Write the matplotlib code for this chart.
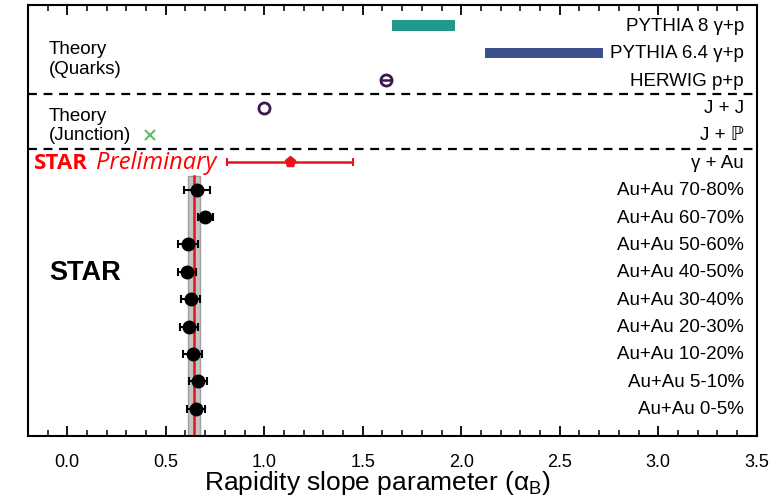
import matplotlib.pyplot as plt
import numpy as np

plt.rcParams['font.family'] = ['Liberation Sans', 'DejaVu Sans']
plt.rcParams['mathtext.default'] = 'regular'

# rows from bottom (0) to top (14)
labels = ["Au+Au 0-5%", "Au+Au 5-10%", "Au+Au 10-20%", "Au+Au 20-30%",
          "Au+Au 30-40%", "Au+Au 40-50%", "Au+Au 50-60%", "Au+Au 60-70%",
          "Au+Au 70-80%", "\u03b3 + Au", "J + \u2119", "J + J",
          "HERWIG p+p", "PYTHIA 6.4 \u03b3+p", "PYTHIA 8 \u03b3+p"]

# STAR Au+Au points (0-5% ... 70-80%)
auau_alpha = [0.655, 0.663, 0.638, 0.618, 0.628, 0.608, 0.613, 0.70, 0.66]
auau_err = [0.045, 0.045, 0.048, 0.046, 0.048, 0.045, 0.05, 0.038, 0.066]
avg_alpha = 0.641
avg_band = (0.613, 0.676)

# gamma + Au preliminary
gau_alpha = 1.13
gau_lo, gau_hi = 0.81, 1.45

# theory
jp_alpha = 0.42
jj_alpha = 1.0
herwig_alpha = 1.62
herwig_err = 0.02
pythia64 = (2.12, 2.72)
pythia8 = (1.646, 1.97)

fig = plt.figure(figsize=(7.73, 5.02), dpi=100)
ax = fig.add_axes([0.036, 0.1295, 0.943, 0.8585])

ax.set_xlim(-0.2, 3.5)
ax.set_ylim(-1, 14.75)

# average band + line
ax.fill_betweenx([-1, 8.5], avg_band[0], avg_band[1], color='#c4c4c4',
                 edgecolor='#a0a0a0', lw=1, zorder=1)
ax.plot([avg_alpha, avg_alpha], [-1, 8.5], color='#e8141a', lw=1.8, zorder=2)

rows = np.arange(len(auau_alpha))
ax.errorbar(auau_alpha, rows, xerr=auau_err, fmt='o', color='black',
            ms=9, elinewidth=1.5, capsize=3, capthick=1.5, zorder=5)

# gamma + Au
ax.errorbar([gau_alpha], [9], xerr=[[gau_alpha - gau_lo], [gau_hi - gau_alpha]],
            fmt='p', color='#e8141a', ms=8, elinewidth=1.8, capsize=3,
            capthick=1.5, zorder=5)

# theory markers
ax.plot(jp_alpha, 10, 'x', color='#66bb66', ms=7, mew=1.5)
ax.plot(jj_alpha, 11, 'o', mfc='white', mec='#3a1a4a', ms=8, mew=2)
ax.plot(herwig_alpha, 12, 'o', mfc='white', mec='#3a1a4a', ms=8, mew=2)
ax.plot([herwig_alpha - herwig_err, herwig_alpha + herwig_err], [12, 12],
        color='#3a1a4a', lw=1.8)
ax.barh(13, pythia64[1] - pythia64[0], left=pythia64[0], height=0.37,
        color='#3a4f8c')
ax.barh(14, pythia8[1] - pythia8[0], left=pythia8[0], height=0.37,
        color='#21998a')

# separators
for yy in [9.5, 11.5]:
    ax.axhline(yy, color='black', ls=(0, (4, 3)), lw=1.6)

# row labels on the right
for i, lab in enumerate(labels):
    ax.text(3.435, i, lab, ha='right', va='center', fontsize=13.5)

ax.text(-0.092, 12.8, "Theory\n(Quarks)", ha='left', va='center',
        fontsize=13.5, linespacing=1.2)
ax.text(-0.092, 10.36, "Theory\n(Junction)", ha='left', va='center',
        fontsize=13.5, linespacing=1.2)
ax.text(-0.167, 9.0, "STAR", ha='left', va='center', color='#ff0000',
        fontsize=16, fontweight='bold', family=['Open Sans', 'DejaVu Sans'])
ax.text(0.148, 9.0, "Preliminary", ha='left', va='center', color='#ff0000',
        fontsize=17, style='italic', family=['Open Sans', 'DejaVu Sans'])
ax.text(-0.092, 5.0, "STAR", ha='left', va='center', fontsize=19.5,
        fontweight='bold')

ax.set_xticks(np.arange(0, 3.51, 0.5))
ax.set_xticklabels(["%.1f" % v for v in np.arange(0, 3.51, 0.5)])
ax.set_xticks(np.arange(-0.1, 3.5, 0.1), minor=True)
ax.tick_params(axis='x', which='both', direction='in', top=True, bottom=True,
               labelsize=13, pad=12)
ax.tick_params(axis='x', which='major', length=7, width=1.3)
ax.tick_params(axis='x', which='minor', length=4, width=1.1)
ax.set_yticks([])
for s in ax.spines.values():
    s.set_linewidth(1.5)

ax.set_xlabel("Rapidity slope parameter (\u03b1$_{B}$)", fontsize=19, labelpad=1)
ax.xaxis.set_label_coords(0.48, -0.075)

fig.savefig("out.png", dpi=100)
